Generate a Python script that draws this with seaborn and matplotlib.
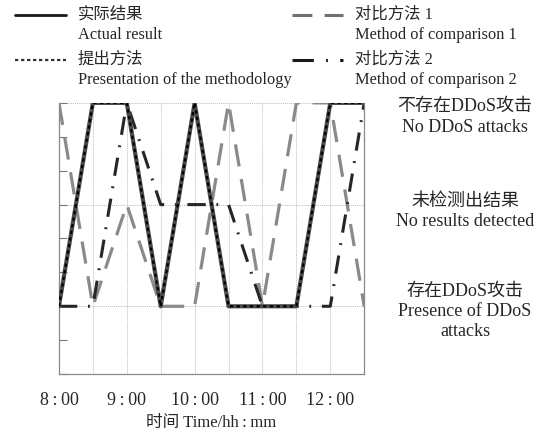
import matplotlib
matplotlib.use('Agg')
import matplotlib.pyplot as plt
from matplotlib.lines import Line2D
import seaborn as sns

# time axis in hours, one point every half hour
times = [8.0, 8.5, 9.0, 9.5, 10.0, 10.5, 11.0, 11.5, 12.0, 12.5]
# state codes: 8 = no DDoS attack, 5 = no result detected, 2 = DDoS attack present
actual   = [2, 8, 8, 2, 8, 2, 2, 2, 8, 8]
proposed = [2, 8, 8, 2, 8, 2, 2, 2, 8, 8]
method1  = [8, 2, 5, 2, 2, 8, 2, 8, 8, 2]
method2  = [2, 2, 8, 5, 5, 5, 2, 2, 2, 8]

xtick_pos = [8, 9, 10, 11, 12]
xtick_labels = ['8\u2009:\u200900', '9\u2009:\u200900', '10\u2009:\u200900',
                '11\u2009:\u200900', '12\u2009:\u200900']
state_pos = [8, 5, 2]
state_labels = ['不存在DDoS攻击\nNo DDoS attacks',
                '未检测出结果\nNo results detected',
                '存在DDoS攻击\nPresence of DDoS\nattacks']

sns.set_style('white')
plt.rcParams['font.family'] = ['Liberation Serif', 'Noto Sans CJK SC', 'DejaVu Sans']

fig = plt.figure(figsize=(5.51, 4.36), dpi=100)
ax = fig.add_axes([0.107, 0.142, 0.554, 0.622])

# grid first so lines sit on top
for t in times:
    ax.axvline(t, color='#bcbcbc', lw=0.7, ls=(0, (1, 1)), zorder=0)
for s in state_pos:
    ax.axhline(s, color='#bcbcbc', lw=0.7, ls=(0, (1, 1)), zorder=0)

sns.lineplot(x=times, y=method1, ax=ax, color='#8a8a8a', lw=2.3,
             linestyle=(0, (7, 4)), zorder=2)
sns.lineplot(x=times, y=method2, ax=ax, color='#262626', lw=2.2,
             linestyle=(0, (6, 3.5, 0.6, 3.5)), zorder=3)
sns.lineplot(x=times, y=actual, ax=ax, color='#4a4a4a', lw=3.0, zorder=4)
sns.lineplot(x=times, y=proposed, ax=ax, color='black', lw=1.6,
             linestyle=(0, (1.5, 1.5)), zorder=5)

ax.set_xlim(8, 12.5)
ax.set_ylim(0, 8)
ax.set_xticks(xtick_pos)
ax.set_xticklabels(xtick_labels, fontsize=13)
ax.set_yticks(range(0, 9))
ax.set_yticklabels([])
ax.tick_params(axis='x', length=0, pad=13)
ax.tick_params(axis='y', left=True, direction='in', length=6, color='#777777', width=0.8)
ax.set_xlabel('时间 Time/hh\u2009:\u2009mm', fontsize=12, labelpad=4)

for side in ['left', 'bottom', 'right']:
    ax.spines[side].set_color('#888888')
    ax.spines[side].set_linewidth(0.9)
ax.spines['top'].set_visible(False)

# state labels on the right, nudged down a little as in the original
label_shift = [-14, -7, -5]
for s, lab, dy in zip(state_pos, state_labels, label_shift):
    ax.annotate(lab, xy=(1.33, s), xycoords=ax.get_yaxis_transform(),
                xytext=(0, dy), textcoords='offset pixels', ha='center',
                va='center', fontsize=13, linespacing=1.25)

# legend drawn by hand: sample on first text line, label on two lines
legend_items = [
    (0.027, 0.966, dict(color='#1a1a1a', lw=2.0, ls='-'), '实际结果', 'Actual result'),
    (0.027, 0.862, dict(color='#333333', lw=1.6, ls=(0, (1.5, 1.2))), '提出方法',
     'Presentation of the methodology'),
    (0.530, 0.966, dict(color='#707070', lw=2.2, ls=(0, (6.5, 4))), '对比方法 1',
     'Method of comparison 1'),
    (0.530, 0.862, dict(color='#1a1a1a', lw=2.2, ls=(0, (7, 4, 0.6, 4, 2.5, 10))), '对比方法 2',
     'Method of comparison 2'),
]
for x0, y0, style, zh, en in legend_items:
    fig.add_artist(Line2D([x0, x0 + 0.092], [y0, y0], transform=fig.transFigure, **style))
    fig.text(x0 + 0.114, y0, zh, fontsize=11.8, va='center', ha='left')
    fig.text(x0 + 0.114, y0 - 0.046, en, fontsize=11.8, va='center', ha='left')

fig.savefig('out.png', dpi=100)
